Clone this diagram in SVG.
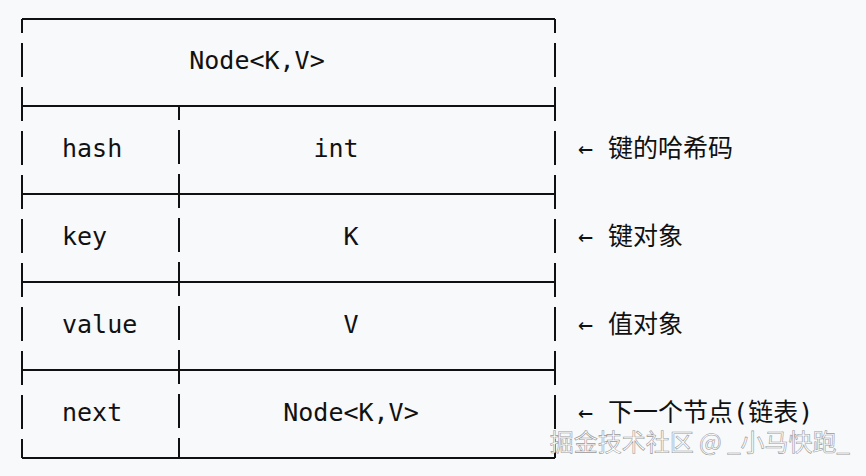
<svg xmlns="http://www.w3.org/2000/svg" width="866" height="476" viewBox="0 0 866 476">
<style>
.h{stroke:#111;stroke-width:2}
.v{stroke:#111;stroke-width:2;stroke-dasharray:34 10;stroke-dashoffset:20}
.t{font-family:"DejaVu Sans Mono",monospace;font-size:25px;fill:#111}
.c{font-family:"DejaVu Sans Mono","Noto Sans CJK SC",monospace;font-size:25px;fill:#111}
</style>
<rect width="866" height="476" fill="#f8f9fb"/>
<g id="connectors">
<line class="h" x1="22" y1="19" x2="555" y2="19"/>
<line class="h" x1="22" y1="106" x2="555" y2="106"/>
<line class="h" x1="22" y1="194" x2="555" y2="194"/>
<line class="h" x1="22" y1="282" x2="555" y2="282"/>
<line class="h" x1="22" y1="370" x2="555" y2="370"/>
<line class="h" x1="22" y1="458" x2="555" y2="458"/>
<line class="v" x1="22" y1="19" x2="22" y2="458"/>
<line class="v" x1="555" y1="19" x2="555" y2="458"/>
<line class="v" x1="179" y1="106" x2="179" y2="458"/>
</g>
<g id="title"><text class="t" x="257" y="69" text-anchor="middle">Node&lt;K,V&gt;</text></g>
<g id="hash"><text class="t" x="62" y="157">hash</text><text class="t" x="336" y="157" text-anchor="middle">int</text><text class="c" x="578" y="157">← 键的哈希码</text></g>
<g id="key"><text class="t" x="62" y="245">key</text><text class="t" x="351" y="245" text-anchor="middle">K</text><text class="c" x="578" y="245">← 键对象</text></g>
<g id="value"><text class="t" x="62" y="333">value</text><text class="t" x="351" y="333" text-anchor="middle">V</text><text class="c" x="578" y="333">← 值对象</text></g>
<g id="next"><text class="t" x="62" y="421">next</text><text class="t" x="351" y="421" text-anchor="middle">Node&lt;K,V&gt;</text><text class="c" x="578" y="421">← 下一个节点(链表)</text></g>
<text x="850" y="451" text-anchor="end" font-family="Noto Sans CJK SC,sans-serif" font-size="24" fill="#ffffff" stroke="#999" stroke-width="0.6">掘金技术社区 @ _小马快跑_</text>
</svg>
